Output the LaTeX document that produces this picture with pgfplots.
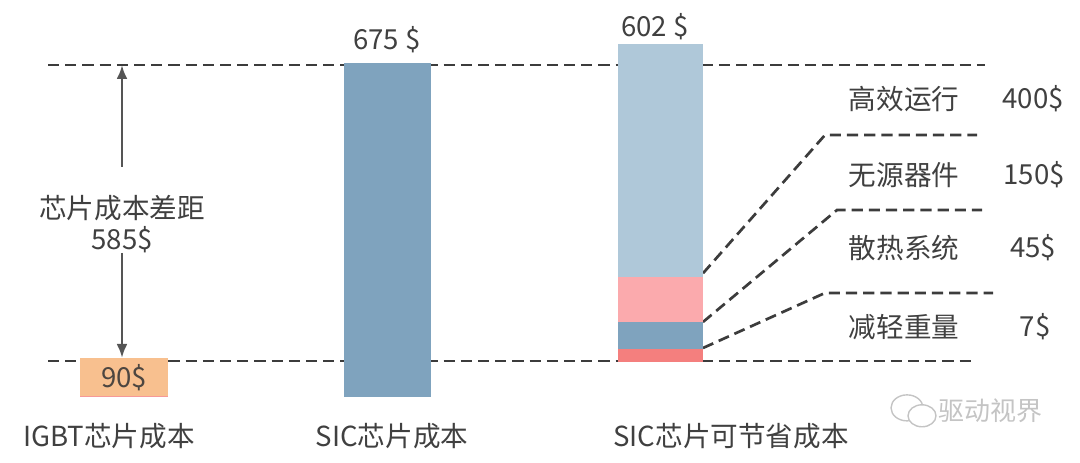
\documentclass[border=0pt]{standalone}
\usepackage{pgfplots}
\pgfplotsset{compat=1.18}
\usepackage{fontspec}
\setmainfont{Noto Sans CJK SC}
\usetikzlibrary{arrows.meta}
\definecolor{cOrange}{HTML}{F8C08F}
\definecolor{cSic}{HTML}{7FA3BE}
\definecolor{cLight}{HTML}{AFC8D9}
\definecolor{cPink}{HTML}{FBAAAD}
\definecolor{cRed}{HTML}{F47F7E}
\definecolor{cTxt}{HTML}{404040}
\definecolor{cDash}{HTML}{3C3C3C}
\definecolor{cArr}{HTML}{555555}
\definecolor{cWm}{HTML}{C4C4C4}
\begin{document}
\begin{tikzpicture}
\path[use as bounding box] (0,0) rectangle (540pt,231pt);
\begin{axis}[at={(0,0)}, anchor=south west, scale only axis,
  width=540pt, height=231pt, xmin=0, xmax=1080, ymin=-131.4, ymax=802.3,
  hide axis, clip=false]
\tikzset{dl/.style={draw=cDash, line width=1.35pt, dash pattern=on 5.6pt off 3pt}}
\tikzset{lab/.style={text=cTxt, font=\fontsize{13.8pt}{16pt}\selectfont, inner sep=0pt}}
% reference dashed lines
\addplot[dl] coordinates {(48,671) (985,671)};
\addplot[dl] coordinates {(48,72.8) (975,72.8)};
% connectors
\addplot[dl] coordinates {(703,250) (825,529.5) (977,529.5)};
\addplot[dl] coordinates {(703,151.6) (837,377.9) (982,377.9)};
\addplot[dl] coordinates {(703,99) (825,210.2) (993,210.2)};
% IGBT bar (90$)
\addplot[fill=cOrange, draw=none] coordinates {(80,0) (168,0) (168,78.8) (80,78.8)} -- cycle;
\addplot[draw=cRed!80, line width=0.6pt] coordinates {(80,1) (168,1)};
% SIC bar (675$)
\addplot[fill=cSic, draw=none] coordinates {(344,0) (431,0) (431,675) (344,675)} -- cycle;
% SIC savings stacked bar (602$)
\addplot[fill=cRed, draw=none] coordinates {(618,70.7) (703,70.7) (703,97) (618,97)} -- cycle;
\addplot[fill=cSic, draw=none] coordinates {(618,97) (703,97) (703,151.6) (618,151.6)} -- cycle;
\addplot[fill=cPink, draw=none] coordinates {(618,151.6) (703,151.6) (703,242.5) (618,242.5)} -- cycle;
\addplot[fill=cLight, draw=none] coordinates {(618,242.5) (703,242.5) (703,713.4) (618,713.4)} -- cycle;
% gap arrow
\draw[draw=cArr, line width=1.4pt, -{Latex[length=7pt,width=5.5pt]}] (axis cs:122,464.8) -- (axis cs:122,671);
\draw[draw=cArr, line width=1.4pt, -{Latex[length=7pt,width=5.5pt]}] (axis cs:122,291) -- (axis cs:122,78.8);
\node[lab] at (axis cs:122,382) {芯片成本差距};
\node[lab] at (axis cs:122,317.3) {585\$};
% value labels
\node[lab, text=cTxt!90!brown] at (axis cs:124,38.4) {90\$};
\node[lab] at (axis cs:387,721.5) {675 \$};
\node[lab] at (axis cs:655,747.8) {602 \$};
% right labels
\node[lab] at (axis cs:904,602.3) {高效运行};
\node[lab] at (axis cs:1033,602.3) {400\$};
\node[lab] at (axis cs:904,448.7) {无源器件};
\node[lab] at (axis cs:1034,448.7) {150\$};
\node[lab] at (axis cs:904,301.1) {散热系统};
\node[lab] at (axis cs:1033,301.1) {45\$};
\node[lab] at (axis cs:904,141.5) {减轻重量};
\node[lab] at (axis cs:1035,141.5) {7\$};
% category labels
\node[lab] at (axis cs:109,-78.8) {IGBT芯片成本};
\node[lab] at (axis cs:392,-78.8) {SIC芯片成本};
\node[lab] at (axis cs:731,-78.8) {SIC芯片可节省成本};
% watermark
\draw[cWm, line width=0.7pt] (axis cs:907,-22) ellipse [x radius=8pt, y radius=6.5pt];
\draw[cWm, line width=0.7pt, fill=white] (axis cs:922,-38) ellipse [x radius=7pt, y radius=5.5pt];
\node[text=cWm, font=\fontsize{13pt}{15pt}\selectfont, inner sep=0pt] at (axis cs:990,-28) {驱动视界};
\end{axis}
\end{tikzpicture}
\end{document}
